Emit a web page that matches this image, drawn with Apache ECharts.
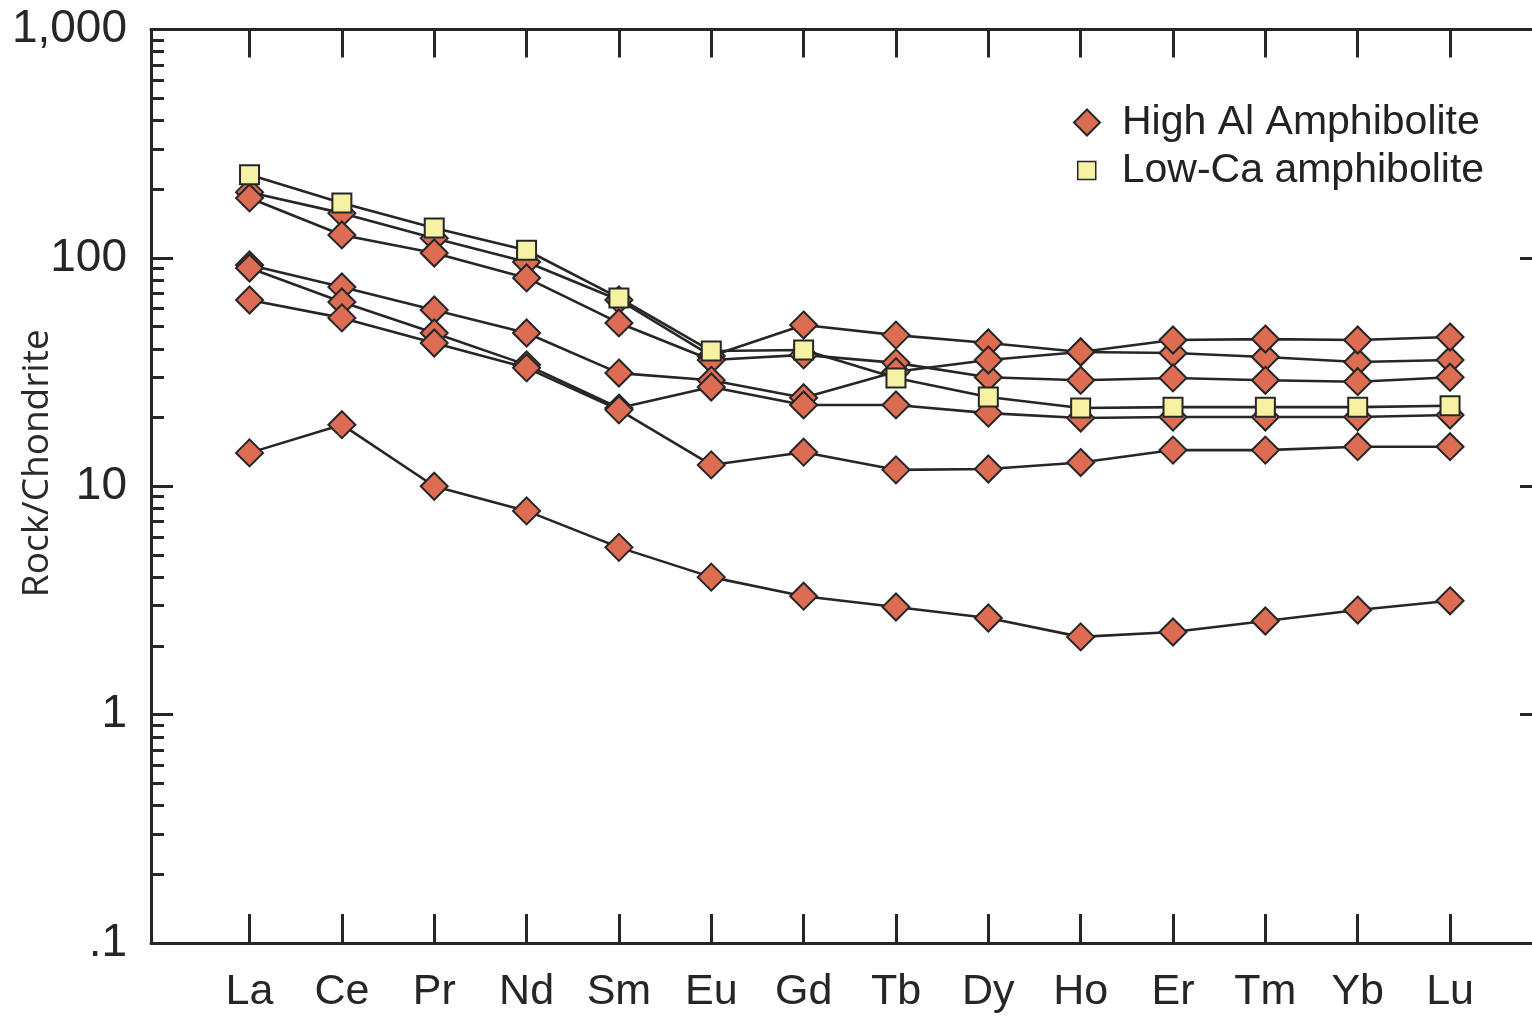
<!DOCTYPE html>
<html><head><meta charset="utf-8">
<script src="https://cdn.jsdelivr.net/npm/echarts@6/dist/echarts.min.js"></script>
<style>html,body{margin:0;padding:0;background:#fff}#c{width:1532px;height:1020px}</style>
</head><body><div id="c"></div>
<script>
const elements = ['La','Ce','Pr','Nd','Sm','Eu','Gd','Tb','Dy','Ho','Er','Tm','Yb','Lu'];
const yTickValues = [0.1, 1, 10, 100, 1000];
const yTickLabels = ['.1', '1', '10', '100', '1,000'];
const yMinorTicks = [0.2,0.3,0.4,0.5,0.6,0.7,0.8,0.9, 2,3,4,5,6,7,8,9, 20,30,40,50,60,70,80,90, 200,300,400,500,600,700,800,900];
const yRightTicks = [1, 10, 100];

// High Al Amphibolite samples (rock / chondrite)
const highAlA = [194, 157, 122, 96, 65.4, 37.2, 50.8, 45.9, 42.4, 38.7, 38.3, 36.8, 35.0, 35.7];
const highAlB = [183, 126, 105, 81.7, 51.9, 35.7, 37.6, 34.7, 30.0, 29.1, 29.8, 29.1, 28.7, 30.0];
const highAlC = [93.1, 74.6, 59.1, 46.9, 31.3, 29.1, 24.4, 31.7, 35.7, 38.7, 43.7, 44.1, 43.7, 45.0];
const highAlD = [90.3, 64.1, 46.9, 34.0, 22.0, 27.2, 22.7, 22.7, 20.9, 19.9, 20.1, 20.1, 20.1, 20.5];
const highAlE = [65.4, 54.6, 42.4, 33.0, 21.6, 12.4, 14.1, 11.8, 11.9, 12.7, 14.4, 14.4, 14.9, 14.9];
const highAlF = [14.0, 18.6, 10.0, 7.8, 5.4, 4.0, 3.3, 2.96, 2.65, 2.19, 2.30, 2.57, 2.87, 3.15];
// Low-Ca amphibolite
const lowCa = [231, 174, 135, 108, 66.8, 39.1, 39.5, 29.8, 24.6, 22.0, 22.2, 22.2, 22.2, 22.5];

const highAlSeries = [highAlA, highAlB, highAlC, highAlD, highAlE, highAlF];
const idx = elements.map((_, i) => i);

const ink = '#262626';
const diamondFill = '#dc6c52';
const squareFill = '#f6f2a2';
const xMin = -1.067, xMax = 13.909;

function mk(name, vals, symbol, size, fill, z) {
  return {
    type: 'line', name: name, z: z,
    data: vals.map((v, i) => [i, v]),
    symbol: symbol, symbolSize: size, showSymbol: true,
    lineStyle: { color: ink, width: 2.6 },
    itemStyle: { color: fill, borderColor: ink, borderWidth: 2 },
    emphasis: { disabled: true },
    animation: false
  };
}

const series = highAlSeries.map((s, k) => mk('High Al Amphibolite', s, 'diamond', 27, diamondFill, 2 + k));
series.push(mk('Low-Ca amphibolite', lowCa, 'rect', 19, squareFill, 10));

const chart = echarts.init(document.getElementById('c'), null, { renderer: 'canvas' });
chart.setOption({
  backgroundColor: '#ffffff',
  animation: false,
  grid: { left: 151, top: 29.5, width: 1383, height: 913.5, containLabel: false, outerBoundsMode: 'none' },
  legend: [
    {
      data: [{ name: 'High Al Amphibolite', icon: 'diamond' }],
      left: 1073, top: 102, padding: 0, orient: 'vertical',
      itemWidth: 26, itemHeight: 26, selectedMode: false,
      itemStyle: { borderColor: ink, borderWidth: 2 },
      textStyle: { fontSize: 41, fontFamily: 'Liberation Sans', color: '#222', padding: [0, 0, 0, 17] }
    },
    {
      data: [{ name: 'Low-Ca amphibolite', icon: 'rect' }],
      left: 1077, top: 150, padding: 0, orient: 'vertical',
      itemWidth: 18, itemHeight: 18, selectedMode: false,
      itemStyle: { borderColor: ink, borderWidth: 1.5 },
      textStyle: { fontSize: 41, fontFamily: 'Liberation Sans', color: '#222', padding: [0, 0, 0, 21] }
    }
  ],
  xAxis: [
    {
      type: 'value', position: 'bottom', min: xMin, max: xMax,
      axisLine: { show: true, onZero: false, lineStyle: { color: ink, width: 3 } },
      axisTick: { show: true, inside: true, length: 29, customValues: idx, lineStyle: { color: ink, width: 3 } },
      axisLabel: { show: true, customValues: idx, formatter: v => elements[Math.round(v)] || '',
        fontSize: 43, fontFamily: 'Liberation Sans', color: '#262626', margin: 28 },
      splitLine: { show: false }
    },
    {
      type: 'value', position: 'top', min: xMin, max: xMax,
      axisLine: { show: true, onZero: false, lineStyle: { color: ink, width: 3 } },
      axisTick: { show: true, inside: true, length: 28, customValues: idx, lineStyle: { color: ink, width: 3 } },
      axisLabel: { show: false },
      splitLine: { show: false }
    }
  ],
  yAxis: [
    {
      type: 'log', logBase: 10, min: 0.1, max: 1000, position: 'left',
      name: 'Rock/Chondrite', nameLocation: 'middle', nameRotate: 90, nameGap: 95,
      nameMoveOverlap: false,
      nameTextStyle: { fontSize: 37, fontFamily: 'Open Sans', color: '#2a2a2a', padding: [0, 0, 0, 46] },
      axisLine: { show: true, onZero: false, lineStyle: { color: ink, width: 3 } },
      axisTick: { show: true, inside: true, length: 22, customValues: yTickValues, lineStyle: { color: ink, width: 3 } },
      axisLabel: { show: true, customValues: yTickValues,
        formatter: v => yTickLabels[Math.round(Math.log10(v)) + 1],
        fontSize: 46, fontFamily: 'Liberation Sans', color: '#262626', margin: 24 },
      splitLine: { show: false }
    },
    {
      type: 'log', logBase: 10, min: 0.1, max: 1000, position: 'left',
      axisLine: { show: false, onZero: false },
      axisTick: { show: true, inside: true, length: 13, customValues: yMinorTicks, lineStyle: { color: ink, width: 3 } },
      axisLabel: { show: false },
      splitLine: { show: false }
    },
    {
      type: 'log', logBase: 10, min: 0.1, max: 1000, position: 'right',
      axisLine: { show: true, onZero: false, lineStyle: { color: ink, width: 3 } },
      axisTick: { show: true, inside: true, length: 14, customValues: yRightTicks, lineStyle: { color: ink, width: 3 } },
      axisLabel: { show: false },
      splitLine: { show: false }
    }
  ],
  series: series
});
</script></body></html>
